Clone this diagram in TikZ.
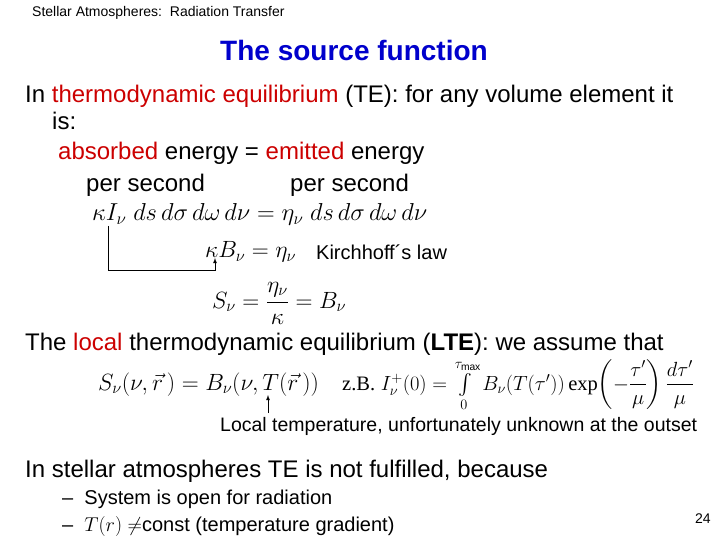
\RequirePackage{fix-cm}
\documentclass[tikz,border=0pt]{standalone}
\usepackage{amsmath}
\usepackage{fontspec}
\setmainfont{Liberation Sans}
\newfontfamily\tnr{Liberation Serif}
\definecolor{tblue}{RGB}{0,0,204}
\definecolor{tred}{RGB}{204,0,0}
\begin{document}
\begin{tikzpicture}[x=1pt,y=-1pt,
  txt/.style={anchor=base west,inner sep=0pt,font=\fontsize{24}{28}\selectfont},
  sm/.style={anchor=base west,inner sep=0pt,font=\fontsize{20}{24}\selectfont},
  eq/.style={anchor=base west,inner sep=0pt,font=\fontsize{23.5}{26}\selectfont},
  conn/.style={draw,line width=0.8pt,-latex}]
\useasboundingbox[fill=white] (0,0) rectangle (720,540);
\node[anchor=base west,inner sep=0pt,font=\fontsize{14}{16}\selectfont] (hdr) at (32,17) {Stellar Atmospheres:\ \ Radiation Transfer};
\node[anchor=base,inner sep=0pt,font=\fontsize{28}{32}\bfseries\selectfont,text=tblue] (title) at (354,61) {The source function};
\node[txt] (l1) at (25,103) {In \textcolor{tred}{thermodynamic equilibrium} (TE): for any volume element it};
\node[txt] (l2) at (52,130) {is:};
\node[txt] (l3) at (58,160) {\textcolor{tred}{absorbed} energy = \textcolor{tred}{emitted} energy};
\node[txt] (l4) at (86,192) {per second};
\node[txt] (l5) at (290,192) {per second};
\node[eq,font=\fontsize{24.5}{28}\selectfont] (e1) at (92,221) {$\kappa I_\nu\ ds\,d\sigma\, d\omega\, d\nu = \eta_\nu\ ds\,d\sigma\, d\omega\, d\nu$};
\node[eq] (e2) at (205,258) {$\kappa B_\nu = \eta_\nu$};
\node[anchor=base west,inner sep=0pt,font=\fontsize{20}{24}\selectfont] (kl) at (316,259) {Kirchhoff´s law};
\coordinate (a1) at (108,226);
\coordinate (a2) at (108,270);
\coordinate (a3) at (215,270);
\coordinate (a4) at (215,258);
\draw[conn] (a1) |- (a3) -- (a4);
\node[eq] (e3) at (212,308) {$S_\nu = \dfrac{\eta_\nu}{\kappa} = B_\nu$};
\node[txt] (l6) at (25,350) {The \textcolor{tred}{local} thermodynamic equilibrium (\textbf{LTE}): we assume that};
\node[eq] (e4) at (98,390) {$S_\nu(\nu,\vec r\,) = B_\nu(\nu, T(\vec r\,))$};
\node[eq,font=\fontsize{20.5}{24}\selectfont] (e5) at (342,390) {{\tnr z.B.} $I^+_\nu(0) = \int\limits_0^{\tau_{\max}} B_\nu(T(\tau'))\,\text{\tnr exp}\!\left(-\dfrac{\tau'}{\mu}\right)\dfrac{d\tau'}{\mu}$};
\node[anchor=base west,inner sep=0pt,font=\fontsize{19.5}{24}\selectfont] (lt) at (220,431) {Local temperature, unfortunately unknown at the outset};
\coordinate (b1) at (268,413);
\coordinate (b2) at (268,395);
\draw[conn] (b1) -- (b2);
\node[txt] (l7) at (25,477) {In stellar atmospheres TE is not fulfilled, because};
\node[sm] (bl1) at (62,504) {–\ \ System is open for radiation};
\node[sm] (bl2) at (62,531) {–\ \ $T(r)$ $\neq$const (temperature gradient)};
\node[anchor=base west,inner sep=0pt,font=\fontsize{14}{16}\selectfont] (pg) at (695,523) {24};
\end{tikzpicture}
\end{document}
